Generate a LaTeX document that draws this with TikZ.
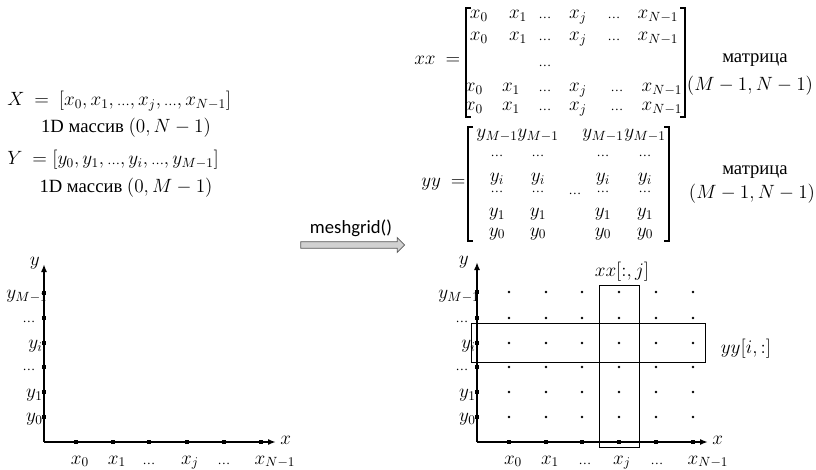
\documentclass[tikz,border=0pt]{standalone}
\usepackage{amsmath}
\usepackage{fontspec}
\setmainfont{Liberation Serif}
\newfontfamily\calibrifont{Carlito}
\usepackage{tikz}
\usetikzlibrary{arrows.meta,positioning,shapes.arrows}
\newcommand{\dts}{\text{\fontsize{9.5}{11}\selectfont …}}
\tikzset{
  txt/.style={inner sep=0pt, font=\rmfamily\fontsize{14}{16}\selectfont},
  axisline/.style={-{Latex[length=6pt,width=4.5pt]}, line width=1.4pt},
  tickmark/.style={rectangle, fill=black, minimum size=3.4pt, inner sep=0pt},
  gridpt/.style={circle, fill=black, minimum size=2.2pt, inner sep=0pt},
  selbox/.style={draw=black, line width=0.6pt},
  bracket/.style={line width=0.8pt},
  mesharrow/.style={single arrow, draw=black!65, fill=black!18, line width=0.6pt, inner sep=2.2pt, single arrow head extend=3pt, single arrow head indent=0pt, minimum height=78pt}
}

\begin{document}
\begin{tikzpicture}[x=0.75pt,y=-0.75pt]
\useasboundingbox (0,0) rectangle (816,470);

% 1D arrays
\node[txt, anchor=base west] (X) at (7,106) {$X\ =\ [x_0, x_1, \dts, x_j, \dts, x_{N-1}]$};
\node[txt, anchor=base] (Xdim) at (126,133) {1D массив $(0, N-1)$};
\node[txt, anchor=base west] (Y) at (7,165) {$Y\ = [y_0, y_1, \dts, y_i, \dts, y_{M-1}]$};
\node[txt, anchor=base] (Ydim) at (126,193) {1D массив $(0, M-1)$};

% matrix xx
\node[txt, anchor=base west] (xxeq) at (414,65) {$xx\ =$};
\foreach \r/\b in {1/19,2/41} {
  \foreach \c/\px/\e in {1/479/x_0, 2/518/x_1, 3/545/\dts, 4/578/x_j, 5/614/\dts, 6/658/x_{N-1}}
    \node[txt, anchor=base] (xx-\r-\c) at (\px,\b) {$\e$};
}
\node[txt, anchor=base] (xx-3-3) at (545,67) {$\dts$};
\foreach \r/\b in {4/92,5/111} {
  \foreach \c/\px/\e in {1/474/x_0, 2/511/x_1, 3/545/\dts, 4/578/x_j, 5/617/\dts, 6/662/x_{N-1}}
    \node[txt, anchor=base] (xx-\r-\c) at (\px,\b) {$\e$};
}
\draw[bracket] (471,8) -- (466,8) -- (466,117) -- (471,117);
\draw[bracket] (680,8) -- (685,8) -- (685,117) -- (680,117);
\node[txt] (xxmat) at (755,60) {матрица};
\node[txt] (xxdim) at (750,86) {$(M-1, N-1)$};

% matrix yy
\node[txt, anchor=base west] (yyeq) at (421,187) {$yy\ =$};
\foreach \r/\b/\e in {1/138/y_{M-1}, 2/157/\dts, 3/182/y_i, 4/193/\dts, 5/217/y_1, 6/236/y_0} {
  \foreach \c/\px in {1/497, 2/538, 3/603, 4/645}
    \node[txt, anchor=base] (yy-\r-\c) at (\px,\b) {$\e$};
}
\node[txt, anchor=base] (yymid) at (575,195) {$\dts$};
\draw[bracket] (473,127) -- (468,127) -- (468,241) -- (473,241);
\draw[bracket] (664,127) -- (669,127) -- (669,241) -- (664,241);
\node[txt] (yymat) at (755,172) {матрица};
\node[txt] (yydim) at (752,194) {$(M-1, N-1)$};

% meshgrid arrow
\node[mesharrow] (mesh) at (351,245) {};
\node[font=\calibrifont\fontsize{14}{16}\selectfont, inner sep=0pt, above=3pt of mesh] (meshlbl) {meshgrid()};

% left axes
\coordinate (lo) at (44,442);
\coordinate (lytop) at (44,264);
\coordinate (lxend) at (276,442);
\draw[axisline] (lo) -- (lytop);
\draw[axisline] (lo) -- (lxend);
\node[txt, anchor=east] (ly) at (40,263) {$y$};
\node[txt, anchor=west] (lx) at (280,440) {$x$};
\foreach \k/\py in {1/293,2/318,3/343,4/367,5/392,6/417}
  \node[tickmark] (lyt-\k) at (44,\py) {};
\foreach \k/\px in {1/76,2/113,3/149,4/187,5/224,6/261}
  \node[tickmark] (lxt-\k) at (\px,442) {};
\node[txt, anchor=west] (lyl-1) at (6,296) {$y_{M-1}$};
\node[txt] (lyl-2) at (29,322) {$\dts$};
\node[txt, anchor=east] (lyl-3) at (43,346) {$y_i$};
\node[txt] (lyl-4) at (29,370) {$\dts$};
\node[txt, anchor=east] (lyl-5) at (43,395) {$y_1$};
\node[txt, anchor=east] (lyl-6) at (43,419) {$y_0$};
\foreach \k/\px/\e in {1/80/x_0, 2/117/x_1, 4/190/x_j, 6/275/x_{N-1}}
  \node[txt, anchor=base] (lxl-\k) at (\px,464) {$\e$};
\node[txt, anchor=base] (lxl-3) at (149,464) {$\dts$};
\node[txt, anchor=base] (lxl-5) at (224,464) {$\dts$};

% right axes with the grid
\coordinate (ro) at (477,442);
\coordinate (rytop) at (477,262);
\coordinate (rxend) at (708,442);
\draw[axisline] (ro) -- (rytop);
\draw[axisline] (ro) -- (rxend);
\node[txt, anchor=east] (ry) at (469,262) {$y$};
\node[txt, anchor=west] (rx) at (712,440) {$x$};
\foreach \k/\py in {1/292,2/318,3/343,4/367,5/392,6/417} {
  \node[tickmark] (ryt-\k) at (477,\py) {};
  \foreach \c/\px in {1/509,2/546,3/582,4/619,5/656,6/693}
    \node[gridpt] (g-\k-\c) at (\px,\py) {};
}
\foreach \c/\px in {1/509,2/546,3/582,4/619,5/656,6/693}
  \node[tickmark] (rxt-\c) at (\px,442) {};
\node[txt, anchor=west] (ryl-1) at (438,296) {$y_{M-1}$};
\node[txt] (ryl-2) at (462,322) {$\dts$};
\node[txt, anchor=east] (ryl-3) at (476,346) {$y_i$};
\node[txt] (ryl-4) at (462,370) {$\dts$};
\node[txt, anchor=east] (ryl-5) at (476,395) {$y_1$};
\node[txt, anchor=east] (ryl-6) at (476,419) {$y_0$};
\foreach \k/\px/\e in {1/513/x_0, 2/550/x_1, 4/622/x_j, 6/708/x_{N-1}}
  \node[txt, anchor=base] (rxl-\k) at (\px,464) {$\e$};
\node[txt, anchor=base] (rxl-3) at (585,464) {$\dts$};
\node[txt, anchor=base] (rxl-5) at (657,464) {$\dts$};

% column and row selections
\draw[selbox] (599,285) rectangle (639,447);
\draw[selbox] (471,323) rectangle (705,362);
\node[txt] (colsel) at (622,272) {$xx[:, j]$};
\node[txt] (rowsel) at (746,349) {$yy[i, :]$};
\end{tikzpicture}
\end{document}
